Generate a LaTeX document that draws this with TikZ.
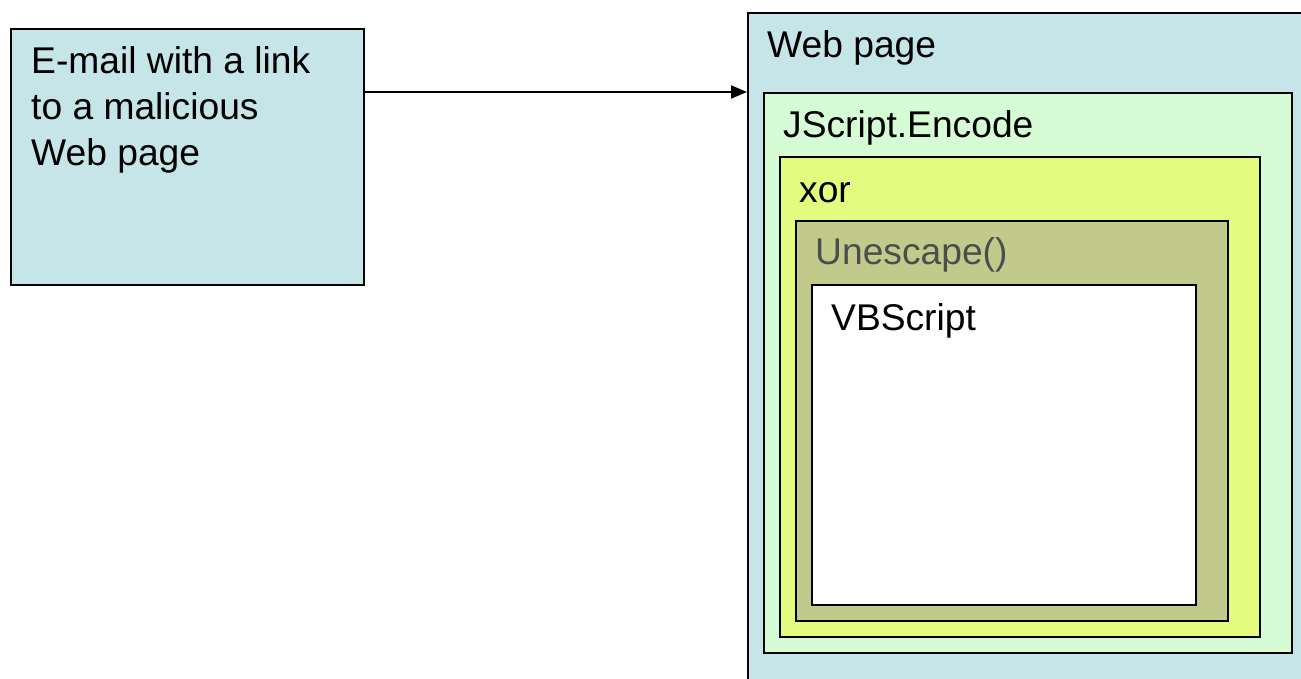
\documentclass[tikz,border=0pt]{standalone}
\usepackage{fontspec}
\setmainfont{Liberation Sans}
\usetikzlibrary{arrows.meta,positioning}
\definecolor{pgcyan}{HTML}{C5E5E8}
\definecolor{pgmint}{HTML}{D5FCD5}
\definecolor{pglime}{HTML}{E3FC80}
\definecolor{pgolive}{HTML}{C1CA8A}
\definecolor{pgdark}{HTML}{4D4D4D}
\tikzset{
  layer/.style = {rectangle, draw=black, line width=2.2pt, inner sep=0pt,
                  anchor=north west},
  ttl/.style   = {font=\fontsize{37.2}{46}\selectfont, inner sep=0pt,
                  anchor=base west, align=left},
  ed/.style    = {-{Triangle[length=16pt,width=13pt]}, draw=black, line width=1.8pt},
}

\begin{document}
\begin{tikzpicture}[x=1pt,y=1pt]
  \useasboundingbox (0,0) rectangle (1301,-679);
  \clip (0,0) rectangle (1301,-679);
  % mail on the left (base anchor sits on the last line)
  \node[layer, fill=pgcyan, minimum width=353pt, minimum height=256pt] (mail) at (10,-28) {};
  \node[ttl] (mailtxt) at (31,-166) {E-mail with a link\\to a malicious\\Web page};
  % nested layers of the page
  \node[layer, fill=pgcyan, minimum width=600pt, minimum height=700pt] (web) at (747,-12) {};
  \node[layer, fill=pgmint, minimum width=528pt, minimum height=560pt] (jscr) at (763,-92) {};
  \node[layer, fill=pglime, minimum width=480pt, minimum height=480pt] (xor) at (779,-156) {};
  \node[layer, fill=pgolive, minimum width=432pt, minimum height=400pt] (unesc) at (795,-220) {};
  \node[layer, fill=white, minimum width=384pt, minimum height=320pt] (vbs) at (811,-284) {};
  \node[ttl] (webtxt) at (767,-58) {Web page};
  \node[ttl] (jscrtxt) at (783,-138) {JScript.Encode};
  \node[ttl] (xortxt) at (799,-203) {xor};
  \node[ttl, text=pgdark] (unesctxt) at (815,-265) {Unescape()};
  \node[ttl] (vbstxt) at (831,-330) {VBScript};
  % link from the mail into the page
  \coordinate (src) at (mail.east |- 0,-92);
  \draw[ed] (src) -- (src -| web.west);
\end{tikzpicture}
\end{document}
